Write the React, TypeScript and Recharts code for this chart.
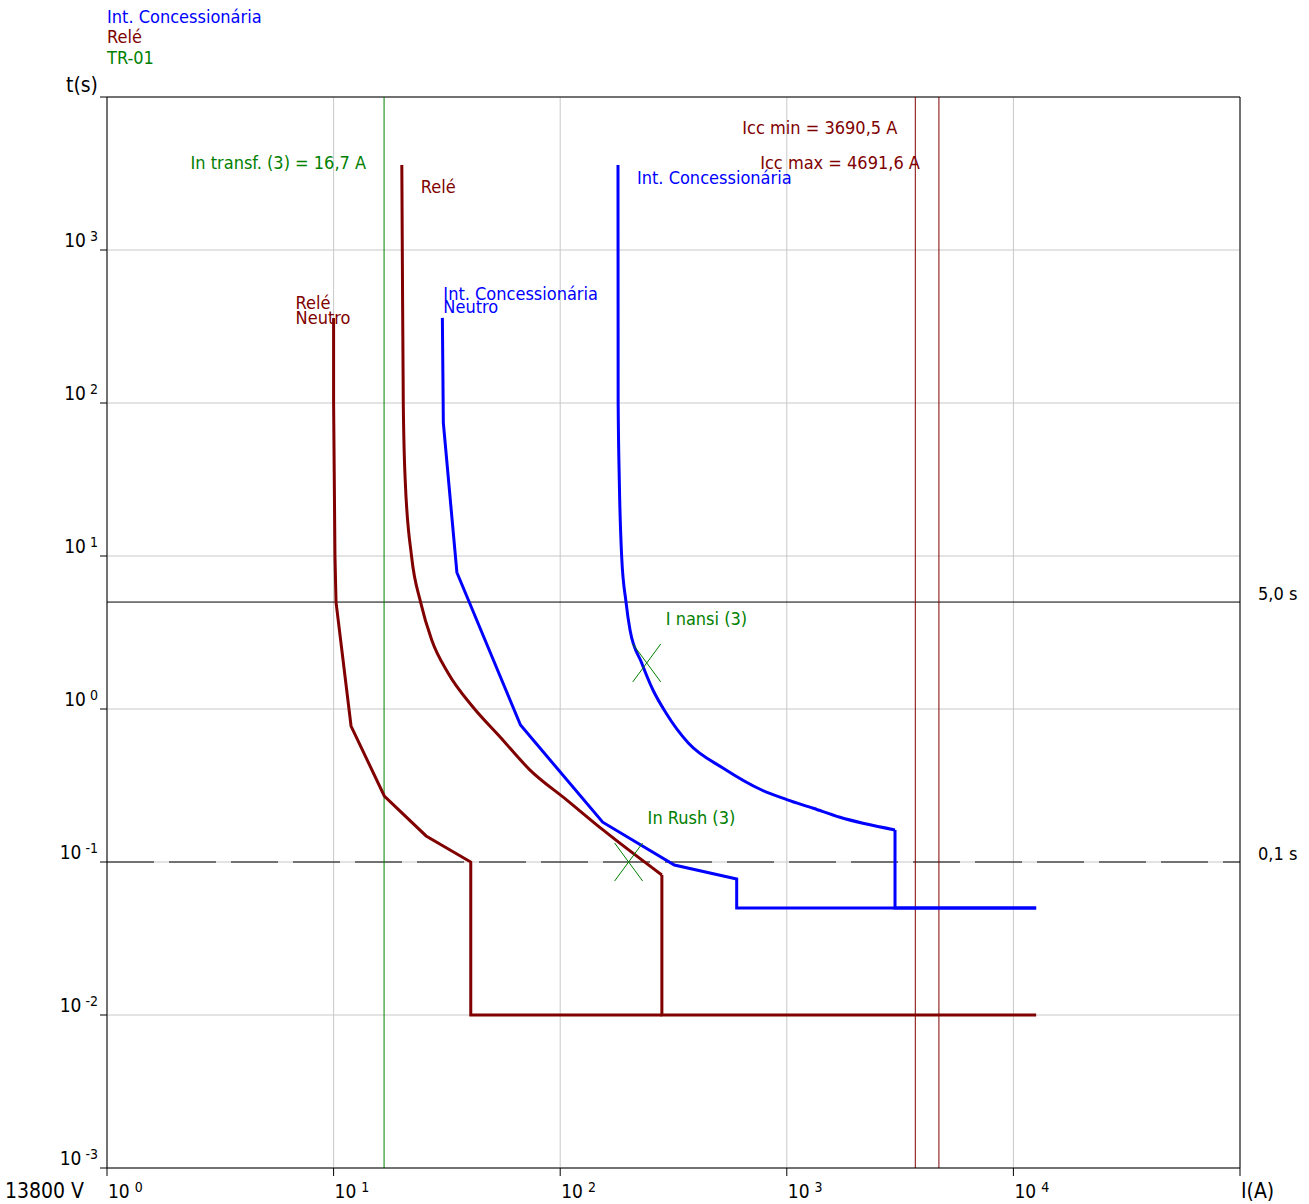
import React from "react"
import { ComposedChart, Line, XAxis, YAxis, CartesianGrid, ReferenceLine, ReferenceDot } from "recharts"

const FONT = "Tahoma, 'DejaVu Sans Condensed', 'DejaVu Sans', sans-serif"
const FS = 18
const BLUE = "#0000ff"
const RED = "#800000"
const GREEN = "#008000"

// axis ticks (decades)
const xTicks = [1, 10, 100, 1000, 10000, 100000]
const yTicks = [0.001, 0.01, 0.1, 1, 10, 100, 1000, 10000]

// Relé (fase) - curve part + definite time part
const releI = [20.0, 20.1, 20.3, 20.7, 22.1, 24.2, 27.1, 32.0, 41.2, 54.3, 73.6, 107, 154.5, 281]
const releT = [3600, 1000, 100, 31.4, 9.85, 5.0, 2.83, 1.72, 1.03, 0.656, 0.399, 0.254, 0.162, 0.0822]
const releTailI = [281, 281, 12600]
const releTailT = [0.0822, 0.01, 0.01]

// Relé Neutro
const releNeutroI = [10.0, 10.0, 10.07, 10.14, 10.25, 11.94, 16.74, 25.6, 40.3, 40.3, 281]
const releNeutroT = [360, 100, 31.4, 10, 5.0, 0.774, 0.27, 0.148, 0.1, 0.01, 0.01]

// Int. Concessionária (fase)
const concI = [179.9, 180.2, 182.3, 186.8, 195.2, 203.3, 228.9, 256.7, 293, 367.6, 524.6, 774.8, 999, 1309, 1717, 3003]
const concT = [3600, 100, 31.4, 9.85, 5.0, 3.28, 2.0, 1.331, 0.942, 0.5995, 0.41, 0.2955, 0.256, 0.2244, 0.196, 0.162]
const concTailI = [3003, 3003, 12600]
const concTailT = [0.162, 0.05, 0.05]

// Int. Concessionária Neutro
const concNeutroI = [30.2, 30.5, 35.0, 66.8, 154, 319, 601, 601, 12600]
const concNeutroT = [360, 74, 7.8, 0.786, 0.182, 0.0956, 0.0774, 0.05, 0.05]

// transformer points
const inTransf = 16.7
const iccMin = 3690.5
const iccMax = 4691.6
const nansi = { i: 241, t: 2.0 }
const inRush = { i: 200.4, t: 0.1 }

const legend = [
  { name: "Int. Concessionária", color: BLUE },
  { name: "Relé", color: RED },
  { name: "TR-01", color: GREEN },
]

const toPts = (I: number[], T: number[]) => I.map((i, k) => ({ i, t: T[k] }))

const XTick = (props: any) => {
  const { x, y, payload } = props
  const exp = Math.round(Math.log10(payload.value))
  if (exp === 5) {
    return (
      <text x={x + 1} y={y + 20} fontFamily={FONT} fontSize={21} fill="#000">I(A)</text>
    )
  }
  return (
    <text x={x + 1} y={y + 20} fontFamily={FONT} fontSize={19} fill="#000">
      10<tspan dx={5} dy={-6} fontSize={14}>{exp}</tspan>
    </text>
  )
}

const YTick = (props: any) => {
  const { x, y, payload } = props
  const exp = Math.round(Math.log10(payload.value))
  if (exp === 4) {
    return (
      <text x={x} y={y - 5} textAnchor="end" fontFamily={FONT} fontSize={21} fill="#000">t(s)</text>
    )
  }
  return (
    <text x={x} y={y - 3} textAnchor="end" fontFamily={FONT} fontSize={19} fill="#000">
      10<tspan dx={4} dy={-6} fontSize={14}>{exp}</tspan>
    </text>
  )
}

const textLabel = (lines: string[], color: string, dx: number, dy: number, anchor = "start", lh = 15) => (p: any) => {
  const vb = p.viewBox
  return (
    <text x={vb.x + dx} y={vb.y + dy} fill={color} fontFamily={FONT} fontSize={FS} textAnchor={anchor} dominantBaseline="central">
      {lines.map((l, k) => (
        <tspan key={k} x={vb.x + dx} dy={k === 0 ? 0 : lh}>{l}</tspan>
      ))}
    </text>
  )
}

const rightLabel = (txt: string) => (p: any) => {
  const vb = p.viewBox
  return (
    <text x={vb.x + vb.width + 18} y={vb.y - 9} fontFamily={FONT} fontSize={FS} fill="#000" dominantBaseline="central">{txt}</text>
  )
}

const XMark = (p: any) => (
  <g stroke={GREEN} strokeWidth={1}>
    <line x1={p.cx - 14} y1={p.cy - 19} x2={p.cx + 14} y2={p.cy + 19} />
    <line x1={p.cx - 14} y1={p.cy + 19} x2={p.cx + 14} y2={p.cy - 19} />
  </g>
)

const NoDot = () => <g />

export default function App() {
  return (
    <div style={{ position: "absolute", left: 0, top: 0, width: 1309, height: 1204, background: "#fff" }}>
      <ComposedChart width={1309} height={1204} margin={{ top: 97, right: 69, bottom: 0, left: 0 }}>
        <CartesianGrid stroke="#c8c8c8" strokeWidth={1} />
        <XAxis
          type="number"
          dataKey="i"
          scale="log"
          domain={[1, 100000]}
          ticks={xTicks}
          allowDataOverflow
          height={36}
          tickSize={8}
          tick={<XTick />}
          axisLine={{ stroke: "#000" }}
          tickLine={{ stroke: "#000" }}
        />
        <YAxis
          type="number"
          dataKey="t"
          scale="log"
          domain={[0.001, 10000]}
          ticks={yTicks}
          allowDataOverflow
          width={107}
          tickSize={7}
          tick={<YTick />}
          axisLine={{ stroke: "#000" }}
          tickLine={{ stroke: "#000" }}
        />
        <ReferenceLine y={10000} stroke="#000" />
        <ReferenceLine x={100000} stroke="#000" />
        <ReferenceLine y={5} stroke="#000" label={rightLabel("5,0 s")} />
        <ReferenceLine y={0.1} stroke="#000" strokeDasharray="47 15" label={rightLabel("0,1 s")} />
        <ReferenceLine x={inTransf} stroke={GREEN} label={textLabel(["In transf. (3) = 16,7 A"], GREEN, -18, 65, "end")} />
        <ReferenceLine x={iccMin} stroke={RED} label={textLabel(["Icc min = 3690,5 A"], RED, -18, 30, "end")} />
        <ReferenceLine x={iccMax} stroke={RED} label={textLabel(["Icc max = 4691,6 A"], RED, -19, 65, "end")} />

        <Line data={toPts(releNeutroI, releNeutroT)} dataKey="t" stroke={RED} strokeWidth={3} dot={false} isAnimationActive={false} type="linear" />
        <Line data={toPts(releI, releT)} dataKey="t" stroke={RED} strokeWidth={3} dot={false} isAnimationActive={false} type="monotoneX" />
        <Line data={toPts(releTailI, releTailT)} dataKey="t" stroke={RED} strokeWidth={3} dot={false} isAnimationActive={false} type="linear" />
        <Line data={toPts(concNeutroI, concNeutroT)} dataKey="t" stroke={BLUE} strokeWidth={3} dot={false} isAnimationActive={false} type="linear" />
        <Line data={toPts(concI, concT)} dataKey="t" stroke={BLUE} strokeWidth={3} dot={false} isAnimationActive={false} type="monotoneX" />
        <Line data={toPts(concTailI, concTailT)} dataKey="t" stroke={BLUE} strokeWidth={3} dot={false} isAnimationActive={false} type="linear" />

        <ReferenceDot x={releI[0]} y={releT[0]} r={0} shape={NoDot} label={textLabel(["Relé"], RED, 19, 21)} />
        <ReferenceDot x={concI[0]} y={concT[0]} r={0} shape={NoDot} label={textLabel(["Int. Concessionária"], BLUE, 19, 12)} />
        <ReferenceDot x={releNeutroI[0]} y={releNeutroT[0]} r={0} shape={NoDot} label={textLabel(["Relé", "Neutro"], RED, -38, -16)} />
        <ReferenceDot x={concNeutroI[0]} y={concNeutroT[0]} r={0} shape={NoDot} label={textLabel(["Int. Concessionária", "Neutro"], BLUE, 1, -25, "start", 13)} />
        <ReferenceDot x={nansi.i} y={nansi.t} r={0} shape={XMark} label={textLabel(["I nansi (3)"], GREEN, 19, -45)} />
        <ReferenceDot x={inRush.i} y={inRush.t} r={0} shape={XMark} label={textLabel(["In Rush (3)"], GREEN, 19, -45)} />
      </ComposedChart>
      <svg width={1309} height={1204} style={{ position: "absolute", left: 0, top: 0, pointerEvents: "none" }}>
        {legend.map((l, k) => (
          <text key={l.name} x={107} y={16 + k * 20.5} fill={l.color} fontFamily={FONT} fontSize={FS} dominantBaseline="central">{l.name}</text>
        ))}
        <text x={5} y={1191} fill="#000" fontFamily={FONT} fontSize={21} dominantBaseline="central">13800 V</text>
      </svg>
    </div>
  )
}
